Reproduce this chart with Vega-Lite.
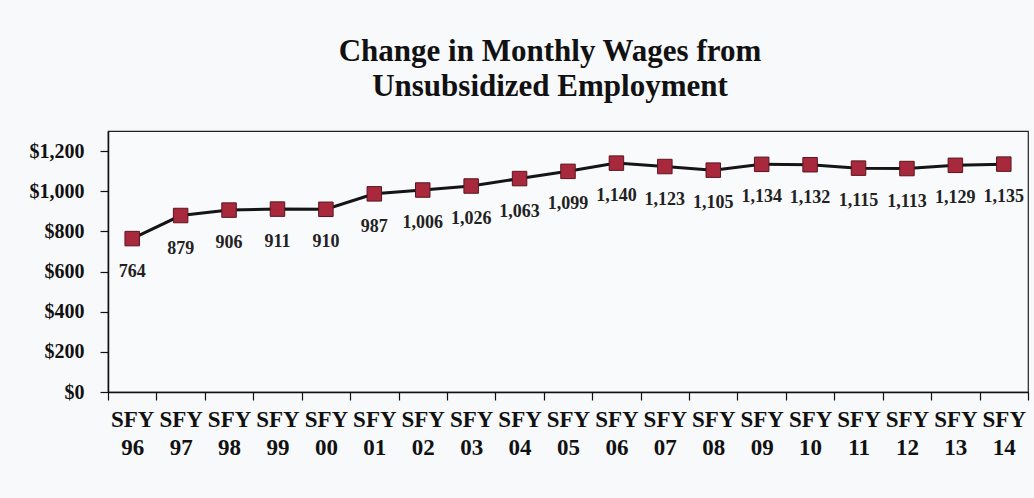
{
  "$schema": "https://vega.github.io/schema/vega-lite/v6.json",
  "autosize": {"type": "none"},
  "width": 920,
  "height": 261,
  "padding": {"left": 108, "top": 131, "right": 6, "bottom": 106},
  "background": "#f7f9fb",
  "title": {
    "text": ["Change in Monthly Wages from", "Unsubsidized Employment"],
    "font": "Liberation Serif",
    "fontSize": 31,
    "fontWeight": "bold",
    "color": "#111111",
    "lineHeight": 35,
    "anchor": "middle",
    "dx": -18,
    "offset": 28
  },
  "config": {
    "view": {"stroke": "#222222", "strokeWidth": 1.2, "fill": "#f9fafc"},
    "axis": {
      "labelFont": "Liberation Serif",
      "labelFontWeight": "bold",
      "labelColor": "#111111",
      "domainColor": "#111111",
      "tickColor": "#111111",
      "domainWidth": 1.5,
      "tickWidth": 1.2,
      "grid": false,
      "title": null
    }
  },
  "data": {
    "values": [
      {"year": "SFY 96", "wage": 764},
      {"year": "SFY 97", "wage": 879},
      {"year": "SFY 98", "wage": 906},
      {"year": "SFY 99", "wage": 911},
      {"year": "SFY 00", "wage": 910},
      {"year": "SFY 01", "wage": 987},
      {"year": "SFY 02", "wage": 1006},
      {"year": "SFY 03", "wage": 1026},
      {"year": "SFY 04", "wage": 1063},
      {"year": "SFY 05", "wage": 1099},
      {"year": "SFY 06", "wage": 1140},
      {"year": "SFY 07", "wage": 1123},
      {"year": "SFY 08", "wage": 1105},
      {"year": "SFY 09", "wage": 1134},
      {"year": "SFY 10", "wage": 1132},
      {"year": "SFY 11", "wage": 1115},
      {"year": "SFY 12", "wage": 1113},
      {"year": "SFY 13", "wage": 1129},
      {"year": "SFY 14", "wage": 1135}
    ]
  },
  "encoding": {
    "x": {
      "field": "year",
      "type": "nominal",
      "sort": null,
      "scale": {"type": "band", "paddingInner": 0, "paddingOuter": 0},
      "axis": {
        "labelAngle": 0,
        "labelExpr": "datum.value ? split(datum.value, ' ') : ''",
        "labelFontSize": 23,
        "labelLineHeight": 28,
        "labelPadding": 8,
        "tickBand": "extent",
        "tickSize": 8,
        "labelBaseline": "top"
      }
    },
    "y": {
      "field": "wage",
      "type": "quantitative",
      "scale": {"domain": [0, 1300], "nice": false},
      "axis": {
        "values": [0, 200, 400, 600, 800, 1000, 1200],
        "format": "$,.0f",
        "labelFontSize": 20,
        "tickSize": 8,
        "labelPadding": 16
      }
    }
  },
  "layer": [
    {
      "mark": {"type": "line", "color": "#151515", "strokeWidth": 3}
    },
    {
      "mark": {"type": "square", "size": 210, "filled": true, "color": "#a8283c", "stroke": "#5a1520", "strokeWidth": 1, "opacity": 1}
    },
    {
      "mark": {"type": "text", "dy": 33, "font": "Liberation Serif", "fontWeight": "bold", "fontSize": 18, "color": "#222222"},
      "encoding": {"text": {"field": "wage", "type": "quantitative", "format": ",.0f"}}
    }
  ]
}
